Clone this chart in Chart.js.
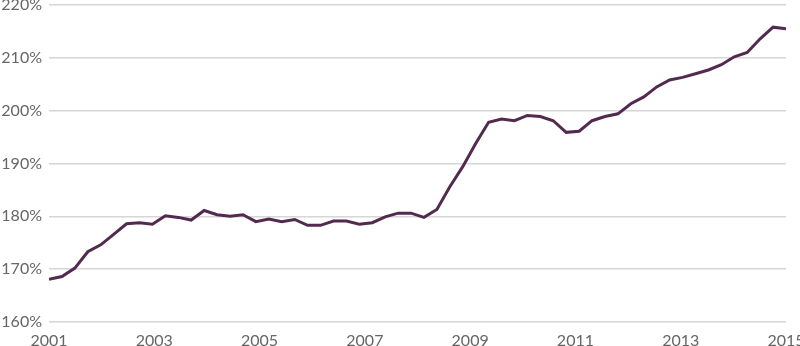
<!DOCTYPE html>
<html>
<head>
<meta charset="utf-8">
<script src="https://cdn.jsdelivr.net/npm/chart.js@4/dist/chart.umd.min.js"></script>
<style>
  html, body { margin: 0; padding: 0; background: #fff; }
  #wrap { width: 800px; height: 346px; }
</style>
</head>
<body>
<div id="wrap"><canvas id="ratioChart"></canvas></div>
<script>
// series spans 2001 to 2015, 58 observations evenly spread
const startYear = 2001;
const endYear = 2015;
const yearTicks = [2001, 2003, 2005, 2007, 2009, 2011, 2013, 2015];
const percentTicks = [160, 170, 180, 190, 200, 210, 220];

const ratio = [
  168.1, 168.6, 170.2, 173.3, 174.6, 176.6, 178.6, 178.8, 178.5, 180.1,
  179.8, 179.3, 181.1, 180.3, 180.0, 180.3, 179.0, 179.5, 179.0, 179.4,
  178.3, 178.3, 179.1, 179.1, 178.5, 178.8, 179.9, 180.6, 180.6, 179.8,
  181.3, 185.6, 189.4, 193.8, 197.8, 198.4, 198.1, 199.1, 198.9, 198.1,
  195.9, 196.1, 198.1, 198.9, 199.4, 201.3, 202.6, 204.5, 205.8, 206.3,
  207.0, 207.7, 208.7, 210.2, 211.0, 213.6, 215.8, 215.5
];

const step = (endYear - startYear) / (ratio.length - 1);
const points = ratio.map((v, i) => ({ x: startYear + i * step, y: v }));

const ctx = document.getElementById("ratioChart").getContext("2d");

const ratioChart = new Chart(ctx, {
  type: "line",
  data: {
    datasets: [
      {
        data: points,
        borderColor: "#532a4f",
        borderWidth: 3,
        pointRadius: 0,
        tension: 0,
        fill: false,
      },
    ],
  },
  options: {
    responsive: true,
    maintainAspectRatio: false,
    animation: false,
    layout: {
      padding: { top: 5, right: 14, bottom: 0, left: 0 },
    },
    plugins: {
      legend: { display: false },
      tooltip: { enabled: false },
    },
    scales: {
      x: {
        type: "linear",
        min: startYear,
        max: endYear,
        afterBuildTicks: (s) => { s.ticks = yearTicks.map((v) => ({ value: v })); },
        afterFit: (s) => {
          s.height = 24;
          s.paddingLeft = 0;
          s.paddingRight = 0;
        },
        grid: { display: false, drawTicks: false },
        border: { display: false },
        ticks: {
          padding: 9,
          maxRotation: 0,
          autoSkip: false,
          color: "#666",
          font: { family: "Lato", size: 16 },
          callback: (v) => String(v),
        },
      },
      y: {
        min: 160,
        max: 220,
        afterBuildTicks: (s) => { s.ticks = percentTicks.map((v) => ({ value: v })); },
        afterFit: (s) => {
          s.width = 49;
          s.paddingTop = 0;
          s.paddingBottom = 0;
        },
        grid: { color: "#d6d6d6", lineWidth: 1.5, drawTicks: false },
        border: { display: false },
        ticks: {
          padding: 7,
          color: "#666",
          font: { family: "Lato", size: 16 },
          callback: (v) => v + "%",
        },
      },
    },
  },
});
</script>
</body>
</html>
